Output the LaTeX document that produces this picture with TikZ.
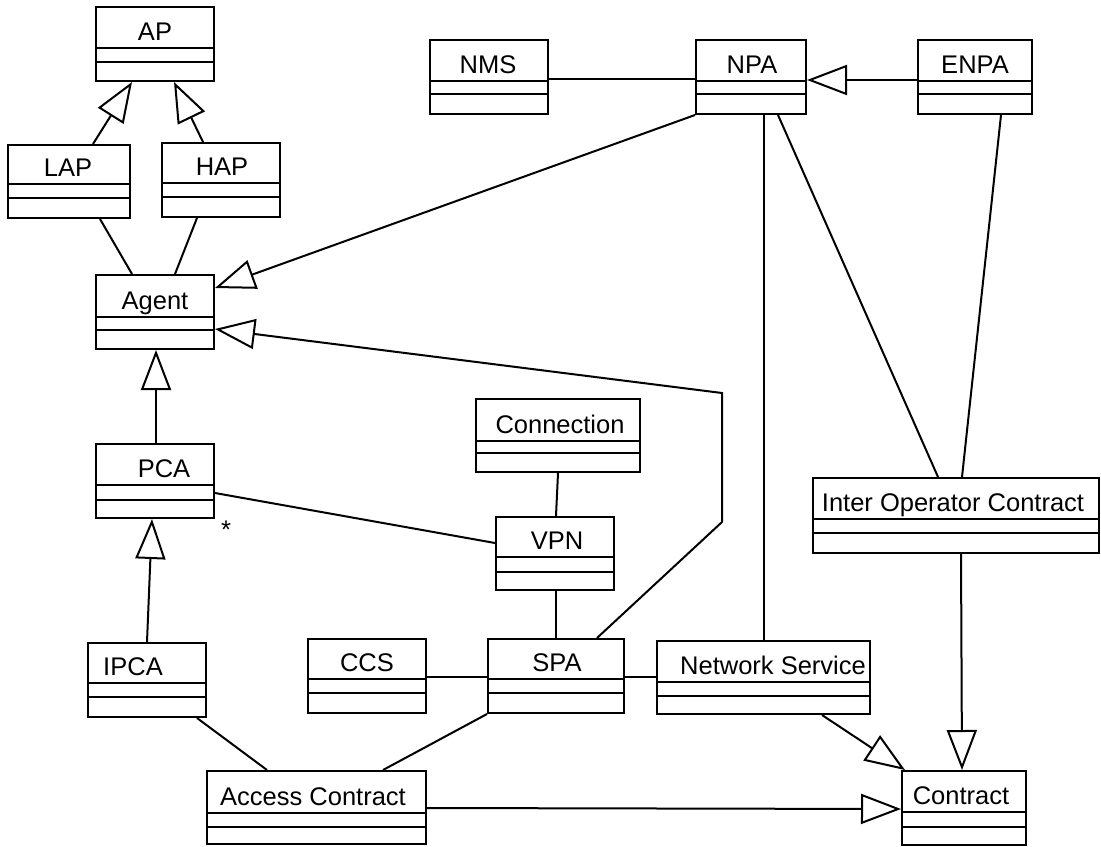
\documentclass[tikz,border=0pt]{standalone}
\usepackage{fontspec}
\setmainfont{Liberation Sans}
\usetikzlibrary{arrows.meta,fit,calc}
\tikzset{
  classbox/.style={draw, line width=1pt, inner sep=0pt, rectangle},
  classline/.style={line width=1pt},
  classname/.style={anchor=base, inner sep=0pt, font=\fontsize{12.75}{15}\selectfont},
  assoc/.style={line width=1pt},
  gen/.style={line width=1pt, -{Triangle[open,length=20pt,width=15pt,line width=1pt]}},
}
\newcommand\umlclass[9]{%
  \node[classbox, fit={(#2,#3) (#4,#5)}] (#1) {};
  \draw[classline] (#2,#6) -- (#4,#6) (#2,#7) -- (#4,#7);
  \node[classname] (#1-name) at (#8,#6-8) {#9};
}
\begin{document}
\begin{tikzpicture}[x=0.5pt,y=-0.5pt]
\useasboundingbox (0,0) rectangle (1101,846);
% classes
\umlclass{AP}{96}{7}{214}{81}{48}{62}{155}{AP}
\umlclass{LAP}{8}{145}{130}{218}{184}{198}{68}{LAP}
\umlclass{HAP}{162}{143}{280}{217}{183}{197}{222}{HAP}
\umlclass{Agent}{96}{275}{214}{349}{317}{330}{155}{Agent}
\umlclass{PCA}{96}{444}{214}{518}{485}{500}{164}{PCA}
\umlclass{IPCA}{88}{643}{206}{717}{683}{697}{133}{IPCA}
\umlclass{Connection}{476}{399}{640}{472}{441}{453}{560}{Connection}
\umlclass{VPN}{496}{517}{614}{590}{557}{572}{557}{VPN}
\umlclass{CCS}{308}{639}{426}{713}{679}{693}{367}{CCS}
\umlclass{SPA}{488}{639}{624}{713}{679}{693}{557}{SPA}
\umlclass{NS}{657}{641}{870}{714}{682}{696}{773}{Network Service}
\umlclass{AC}{207}{771}{426}{844}{813}{827}{313}{Access Contract}
\umlclass{Contract}{902}{771}{1026}{845}{812}{827}{961}{Contract}
\umlclass{IOC}{813}{478}{1099}{553}{519}{533}{953}{Inter Operator Contract}
\umlclass{NMS}{430}{40}{548}{114}{81}{94}{488}{NMS}
\umlclass{NPA}{696}{40}{806}{114}{81}{94}{752}{NPA}
\umlclass{ENPA}{918}{40}{1032}{114}{81}{94}{975}{ENPA}
% bend points
\coordinate (b1) at (722,522);
\coordinate (b2) at (722,393);
% generalizations
\draw[gen] (93,0 |- LAP.north) -- (132,0 |- AP.south);
\draw[gen] (203,0 |- HAP.north) -- (174,0 |- AP.south);
\draw[gen] (NPA.south west) -- (Agent.east |- 0,288);
\draw[gen] (597,0 |- SPA.north) -- (b1) -- (b2) -- (Agent.east |- 0,329);
\draw[gen] (156,0 |- PCA.north) -- (156,0 |- Agent.south);
\draw[gen] (147,0 |- IPCA.north) -- (152,0 |- PCA.south);
\draw[gen] (ENPA.west |- 0,80) -- (NPA.east |- 0,80);
\draw[gen] (961,0 |- IOC.south) -- (962,0 |- Contract.north);
\draw[gen] (822,0 |- NS.south) -- (905,0 |- Contract.north);
\draw[gen] (AC.east |- 0,808) -- (Contract.west |- 0,809);
% associations
\draw[assoc] (100,0 |- LAP.south) -- (132,0 |- Agent.north);
\draw[assoc] (197,0 |- HAP.south) -- (175,0 |- Agent.north);
\draw[assoc] (PCA.east |- 0,493) -- (VPN.west |- 0,543);
\draw[assoc] (558,0 |- Connection.south) -- (556,0 |- VPN.north);
\draw[assoc] (556,0 |- VPN.south) -- (556,0 |- SPA.north);
\draw[assoc] (CCS.east |- 0,677) -- (SPA.west |- 0,677);
\draw[assoc] (SPA.east |- 0,677) -- (NS.west |- 0,677);
\draw[assoc] (764,0 |- NPA.south) -- (764,0 |- NS.north);
\draw[assoc] (778,0 |- NPA.south) -- (938,0 |- IOC.north);
\draw[assoc] (1001,0 |- ENPA.south) -- (962,0 |- IOC.north);
\draw[assoc] (NMS.east |- 0,79) -- (NPA.west |- 0,79);
\draw[assoc] (197,0 |- IPCA.south) -- (267,0 |- AC.north);
\draw[assoc] (SPA.south west) -- (383,0 |- AC.north);
% multiplicity
\node[classname] (star) at (226,538) {*};
\end{tikzpicture}
\end{document}
